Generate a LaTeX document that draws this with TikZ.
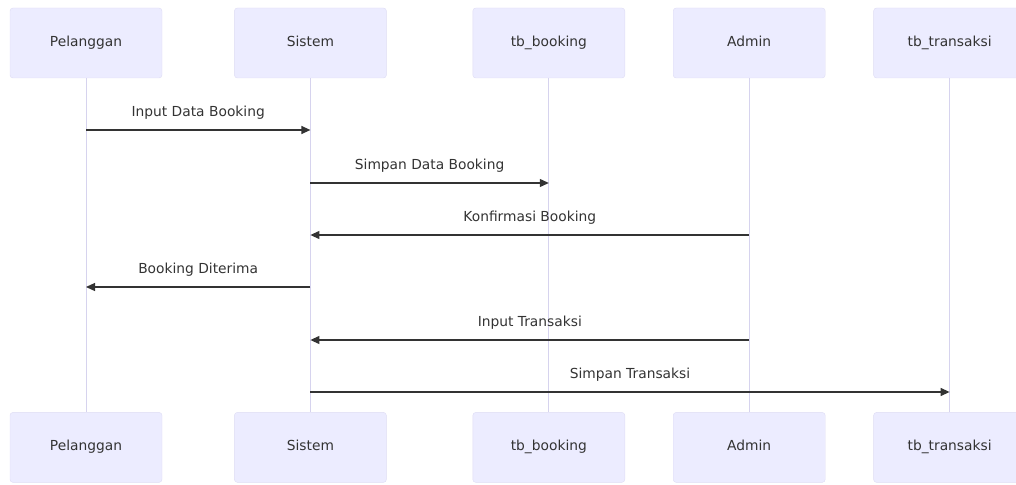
\documentclass[tikz,border=0pt]{standalone}
\usepackage{fontspec}
\setmainfont{DejaVu Sans}
\usetikzlibrary{arrows.meta,positioning}
\definecolor{actorfill}{HTML}{ECECFF}
\definecolor{actoredge}{HTML}{DEDCF4}
\definecolor{lifeline}{HTML}{D6D3EE}
\definecolor{msgdark}{HTML}{333333}

\begin{document}
\begin{tikzpicture}[x=1pt, y=-1pt, node distance=48pt,
  actor/.style={draw=actoredge, fill=actorfill, rounded corners=3pt,
    minimum width=152pt, minimum height=70pt, inner sep=0pt,
    text height=10pt, text depth=3pt,
    font=\fontsize{13.8}{16}\selectfont, text=msgdark},
  life/.style={draw=lifeline, line width=1pt},
  msg/.style={draw=msgdark, line width=1.2pt, -{Triangle[length=9pt,width=8pt]}},
  lbl/.style={above=10pt, inner sep=0pt, font=\fontsize{13.8}{16}\selectfont, text=msgdark}]
  \useasboundingbox (0,0) rectangle (1016,484);

  % participants (top)
  \node[actor] (pelT) at (86,43) {Pelanggan};
  \node[actor, right=72pt of pelT] (sisT) {Sistem};
  \node[actor, right=86pt of sisT] (bookT) {tb\_booking};
  \node[actor, right=of bookT] (admT) {Admin};
  \node[actor, right=of admT] (transT) {tb\_transaksi};

  % participants (bottom)
  \node[actor, below=334pt of pelT] (pelB) {Pelanggan};
  \node[actor, below=334pt of sisT] (sisB) {Sistem};
  \node[actor, below=334pt of bookT] (bookB) {tb\_booking};
  \node[actor, below=334pt of admT] (admB) {Admin};
  \node[actor, below=334pt of transT] (transB) {tb\_transaksi};

  % lifelines
  \draw[life] (pelT.south) -- (pelB.north);
  \draw[life] (sisT.south) -- (sisB.north);
  \draw[life] (bookT.south) -- (bookB.north);
  \draw[life] (admT.south) -- (admB.north);
  \draw[life] (transT.south) -- (transB.north);

  % message rows
  \coordinate (r1) at (0,130);
  \coordinate (r2) at (0,183);
  \coordinate (r3) at (0,235);
  \coordinate (r4) at (0,287);
  \coordinate (r5) at (0,340);
  \coordinate (r6) at (0,392);

  \draw[msg] (pelT |- r1) -- node[lbl] {Input Data Booking} (sisT |- r1);
  \draw[msg] (sisT |- r2) -- node[lbl] {Simpan Data Booking} (bookT |- r2);
  \draw[msg] (admT |- r3) -- node[lbl] {Konfirmasi Booking} (sisT |- r3);
  \draw[msg] (sisT |- r4) -- node[lbl] {Booking Diterima} (pelT |- r4);
  \draw[msg] (admT |- r5) -- node[lbl] {Input Transaksi} (sisT |- r5);
  \draw[msg] (sisT |- r6) -- node[lbl] {Simpan Transaksi} (transT |- r6);
\end{tikzpicture}
\end{document}
